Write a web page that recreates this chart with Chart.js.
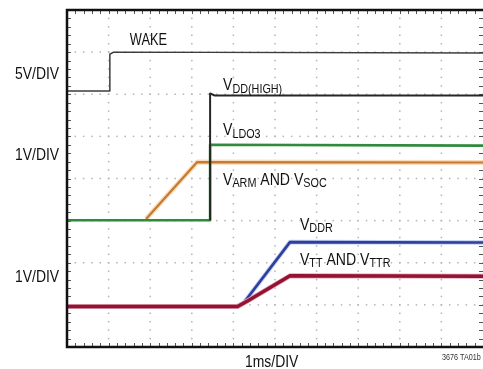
<!DOCTYPE html>
<html>
<head>
<meta charset="utf-8">
<script src="https://cdn.jsdelivr.net/npm/chart.js@4.4.0/dist/chart.umd.min.js"></script>
<style>
  html, body { margin: 0; padding: 0; background: #fff; }
  #wrap { width: 483px; height: 369px; }
</style>
</head>
<body>
<div id="wrap"><canvas id="myChart" width="483" height="369"></canvas></div>
<script>
// time axis in ms (1ms/DIV), vertical axis in divisions from the bottom
const xTicks = [0, 1, 2, 3, 4, 5, 6, 7, 8, 9, 10];
const yTicks = [0, 1, 2, 3, 4, 5, 6, 7, 8];

const wakeT = [0, 1.03, 1.03, 1.12, 10];
const wakeV = [6.08, 6.08, 6.95, 7.0, 6.98];

const vddHighT = [3.44, 3.44, 3.55, 10];
const vddHighV = [3.01, 6.02, 5.97, 5.97];

const ldo3T = [0, 3.44, 3.44, 10];
const ldo3V = [3.01, 3.01, 4.8, 4.78];

// low part of VARM sits under VLDO3, only the ramp shows
const armT = [1.9, 3.13, 10];
const armV = [3.04, 4.39, 4.38];

const ddrT = [0, 4.1, 4.25, 5.36, 10];
const ddrV = [0.97, 0.97, 1.05, 2.49, 2.48];

const ttT = [0, 4.1, 4.35, 5.36, 10];
const ttV = [0.96, 0.96, 1.1, 1.69, 1.68];

const leftLabels = ['5V/DIV', '1V/DIV', '1V/DIV'];
const xTitle = '1ms/DIV';
const figId = '3676 TA01b';

const pts = (t, v) => t.map((x, i) => ({ x: x, y: v[i] }));

const line = (t, v, color, width, order) => ({
  data: pts(t, v),
  showLine: true,
  borderColor: color,
  borderWidth: width,
  borderJoinStyle: 'round',
  pointRadius: 0,
  tension: 0,
  fill: false,
  order: order
});

// condensed text helper
const drawText = (ctx, txt, x, y, size, sx) => {
  ctx.save();
  ctx.font = size + 'px "Liberation Sans", Arial, sans-serif';
  ctx.translate(x, y);
  ctx.scale(sx, 1);
  ctx.fillText(txt, 0, 0);
  const w = ctx.measureText(txt).width * sx;
  ctx.restore();
  return w;
};

// V with subscripts, e.g. [['V','ARM'],[' AND V','SOC']]
const drawSub = (ctx, parts, x, y) => {
  let cx = x;
  parts.forEach(p => {
    cx += drawText(ctx, p[0], cx, y, 16, 0.88);
    if (p[1]) cx += drawText(ctx, p[1], cx, y + 2.5, 12, 0.9);
  });
};

const scopePlugin = {
  id: 'scope',
  beforeDatasetsDraw(chart) {
    const ctx = chart.ctx;
    const xs = chart.scales.x, ys = chart.scales.y;
    const a = chart.chartArea;
    ctx.save();
    // dotted graticule
    ctx.fillStyle = '#b4b4b4';
    xTicks.slice(1, -1).forEach(t => {
      const px = xs.getPixelForValue(t);
      for (let k = 0; k <= 40; k++) {
        const py = ys.getPixelForValue(k * 0.2);
        ctx.fillRect(px - 0.75, py - 0.75, 1.5, 1.5);
      }
    });
    yTicks.slice(1, -1).forEach(t => {
      const py = ys.getPixelForValue(t);
      for (let k = 0; k <= 50; k++) {
        const px = xs.getPixelForValue(k * 0.2);
        ctx.fillRect(px - 0.75, py - 0.75, 1.5, 1.5);
      }
    });
    // minor ticks on the frame
    ctx.strokeStyle = '#555';
    ctx.lineWidth = 1;
    ctx.beginPath();
    for (let k = 1; k < 50; k++) {
      const px = Math.round(xs.getPixelForValue(k * 0.2)) + 0.5;
      ctx.moveTo(px, a.top); ctx.lineTo(px, a.top + 4);
      ctx.moveTo(px, a.bottom); ctx.lineTo(px, a.bottom - 4);
    }
    for (let k = 1; k < 40; k++) {
      const py = Math.round(ys.getPixelForValue(k * 0.2)) + 0.5;
      ctx.moveTo(a.left, py); ctx.lineTo(a.left + 4, py);
      ctx.moveTo(a.right, py); ctx.lineTo(a.right - 4, py);
    }
    ctx.stroke();
    ctx.restore();
  },
  afterDatasetsDraw(chart) {
    const ctx = chart.ctx;
    const xs = chart.scales.x, ys = chart.scales.y;
    const a = chart.chartArea;
    ctx.save();
    // frame
    ctx.strokeStyle = '#111';
    ctx.lineWidth = 2.5;
    ctx.strokeRect(a.left, a.top, a.right - a.left + 2, a.bottom - a.top);

    ctx.fillStyle = '#111';
    ctx.textBaseline = 'alphabetic';
    drawText(ctx, 'WAKE', xs.getPixelForValue(1.51), ys.getPixelForValue(7.17), 16, 0.8);
    drawSub(ctx, [['V', 'DD(HIGH)']], xs.getPixelForValue(3.75), ys.getPixelForValue(6.09));
    drawSub(ctx, [['V', 'LDO3']], xs.getPixelForValue(3.75), ys.getPixelForValue(5.03));
    drawSub(ctx, [['V', 'ARM'], [' AND V', 'SOC']], xs.getPixelForValue(3.75), ys.getPixelForValue(3.85));
    drawSub(ctx, [['V', 'DDR']], xs.getPixelForValue(5.6), ys.getPixelForValue(2.78));
    drawSub(ctx, [['V', 'TT'], [' AND V', 'TTR']], xs.getPixelForValue(5.6), ys.getPixelForValue(1.95));

    // channel scale labels
    const lblY = [6.36, 4.45, 1.55];
    leftLabels.forEach((s, i) => {
      drawText(ctx, s, 15, ys.getPixelForValue(lblY[i]), 16, 0.87);
    });
    drawText(ctx, xTitle, 245, a.bottom + 19.5, 16, 0.87);
    ctx.fillStyle = '#333';
    drawText(ctx, figId, 442, a.bottom + 13, 8.5, 0.85);
    ctx.restore();
  }
};

const ctx = document.getElementById('myChart');

new Chart(ctx, {
  type: 'scatter',
  data: {
    datasets: [
      line(wakeT, wakeV, '#3c3c3c', 1.5, 1),
      line(vddHighT, vddHighV, '#262626', 2, 2),
      line(ldo3T, ldo3V, '#2f8a3c', 2.6, 3),
      line(armT, armV, '#c57a2e', 2.2, 4),
      line(armT, armV, '#f9dcbf', 5, 5),
      line(ttT, ttV, '#971232', 3.4, 6),
      line(ttT, ttV, '#dcaab8', 5, 7),
      line(ddrT, ddrV, '#2c3f9e', 2.6, 8),
      line(ddrT, ddrV, '#c4ccef', 4.5, 9)
    ]
  },
  options: {
    responsive: false,
    devicePixelRatio: 1,
    animation: false,
    layout: {
      padding: { left: 67, right: 0, top: 10, bottom: 22 }
    },
    plugins: {
      legend: { display: false },
      tooltip: { enabled: false }
    },
    scales: {
      x: { type: 'linear', min: 0, max: 10, display: false },
      y: { type: 'linear', min: 0, max: 8, display: false }
    }
  },
  plugins: [scopePlugin]
});
</script>
</body>
</html>
